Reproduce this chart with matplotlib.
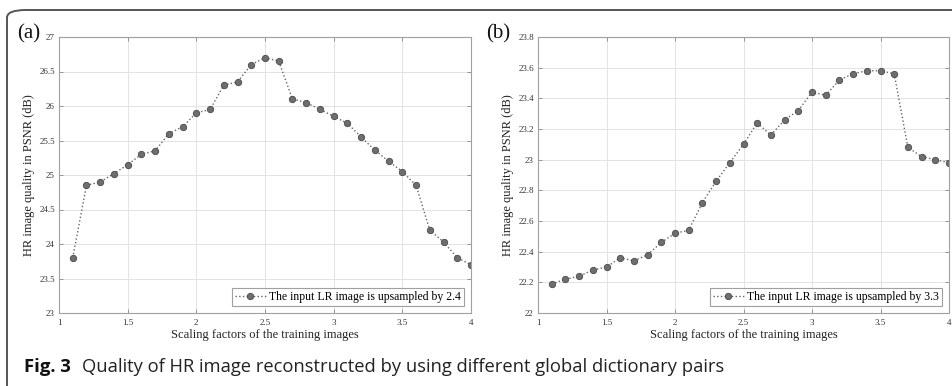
import matplotlib
matplotlib.use('Agg')
import matplotlib.pyplot as plt
from matplotlib.patches import FancyBboxPatch

# scaling factors of the training images
scales = [1.1, 1.2, 1.3, 1.4, 1.5, 1.6, 1.7, 1.8, 1.9, 2.0,
          2.1, 2.2, 2.3, 2.4, 2.5, 2.6, 2.7, 2.8, 2.9, 3.0,
          3.1, 3.2, 3.3, 3.4, 3.5, 3.6, 3.7, 3.8, 3.9, 4.0]

# (a) input upsampled by 2.4
psnr_a = [23.80, 24.85, 24.90, 25.02, 25.15, 25.30, 25.35, 25.60, 25.70, 25.90,
          25.95, 26.30, 26.35, 26.60, 26.70, 26.65, 26.10, 26.05, 25.95, 25.85,
          25.75, 25.55, 25.36, 25.20, 25.05, 24.85, 24.20, 24.03, 23.80, 23.70]

# (b) input upsampled by 3.3
psnr_b = [22.19, 22.22, 22.24, 22.28, 22.30, 22.36, 22.34, 22.38, 22.46, 22.52,
          22.54, 22.72, 22.86, 22.98, 23.10, 23.24, 23.16, 23.26, 23.32, 23.44,
          23.42, 23.52, 23.56, 23.58, 23.58, 23.56, 23.08, 23.02, 23.00, 22.98]

xticks = [1, 1.5, 2, 2.5, 3, 3.5, 4]
xtick_labels = ['1', '1.5', '2', '2.5', '3', '3.5', '4']
yticks_a = [23, 23.5, 24, 24.5, 25, 25.5, 26, 26.5, 27]
ytick_labels_a = ['23', '23.5', '24', '24.5', '25', '25.5', '26', '26.5', '27']
yticks_b = [22, 22.2, 22.4, 22.6, 22.8, 23, 23.2, 23.4, 23.6, 23.8]
ytick_labels_b = ['22', '22.2', '22.4', '22.6', '22.8', '23', '23.2', '23.4', '23.6', '23.8']

plt.rcParams['font.family'] = ['Liberation Serif', 'DejaVu Serif']

fig = plt.figure(figsize=(9.52, 3.86), dpi=100)

# rounded frame around the figure (open to the right / bottom)
frame = FancyBboxPatch((7 / 952, -0.2), 1.2, 0.2 + (386 - 10) / 386,
                       boxstyle='round,pad=0,rounding_size=0.02',
                       transform=fig.transFigure, fill=False,
                       edgecolor='#555555', linewidth=1.4, clip_on=False)
fig.patches.append(frame)

panels = [
    ([59 / 952, 73 / 386, 412 / 952, 276 / 386], psnr_a, yticks_a, ytick_labels_a, (23, 27), '(a)', '2.4', 17),
    ([538 / 952, 73 / 386, 411 / 952, 276 / 386], psnr_b, yticks_b, ytick_labels_b, (22, 23.8), '(b)', '3.3', 486),
]

for rect, vals, yt, ytl, ylim, tag, factor, tag_x in panels:
    ax = fig.add_axes(rect)
    ax.plot(scales, vals, linestyle=':', color='#666666', linewidth=1.0,
            marker='o', markersize=4.6, markerfacecolor='#6e6e6e',
            markeredgecolor='#4a4a4a', markeredgewidth=0.6,
            label='The input LR image is upsampled by ' + factor)
    ax.set_xlim(1, 4)
    ax.set_ylim(*ylim)
    ax.set_xticks(xticks)
    ax.set_xticklabels(xtick_labels)
    ax.set_yticks(yt)
    ax.set_yticklabels(ytl)
    ax.grid(True, color='#e3e3e3', linewidth=0.7)
    ax.set_axisbelow(True)
    ax.tick_params(direction='in', length=3, width=0.6, colors='#888888',
                   labelcolor='#333333', labelsize=6.5, top=True, right=True, pad=3)
    ax.tick_params(axis='x', pad=4.5)
    for s in ax.spines.values():
        s.set_color('#a0a0a0')
        s.set_linewidth(0.8)
    ax.set_xlabel('Scaling factors of the training images', fontsize=9, color='#222222', labelpad=1)
    ax.set_ylabel('HR image quality in PSNR (dB)', fontsize=9, color='#222222')
    ax.yaxis.set_label_coords(-24 / (rect[2] * 952), 0.5)
    leg = ax.legend(loc='lower right', fontsize=8.5, frameon=True, fancybox=False,
                    borderpad=0.25, handlelength=2.6, handletextpad=0.3,
                    borderaxespad=0.6)
    leg.get_frame().set_edgecolor('#888888')
    leg.get_frame().set_linewidth(0.8)
    fig.text(tag_x / 952, 1 - 34 / 386, tag, fontsize=15, va='center', ha='left', color='#111111')

fig.text(24 / 952, 1 - 367 / 386, 'Fig. 3', fontsize=13.3, fontweight='bold',
         family=['Open Sans', 'DejaVu Sans'], va='center', ha='left', color='#111111')
fig.text(82 / 952, 1 - 367 / 386,
         'Quality of HR image reconstructed by using different global dictionary pairs',
         fontsize=13.2, family=['Open Sans', 'DejaVu Sans'], va='center', ha='left', color='#222222')

fig.savefig('out.png', dpi=100)
